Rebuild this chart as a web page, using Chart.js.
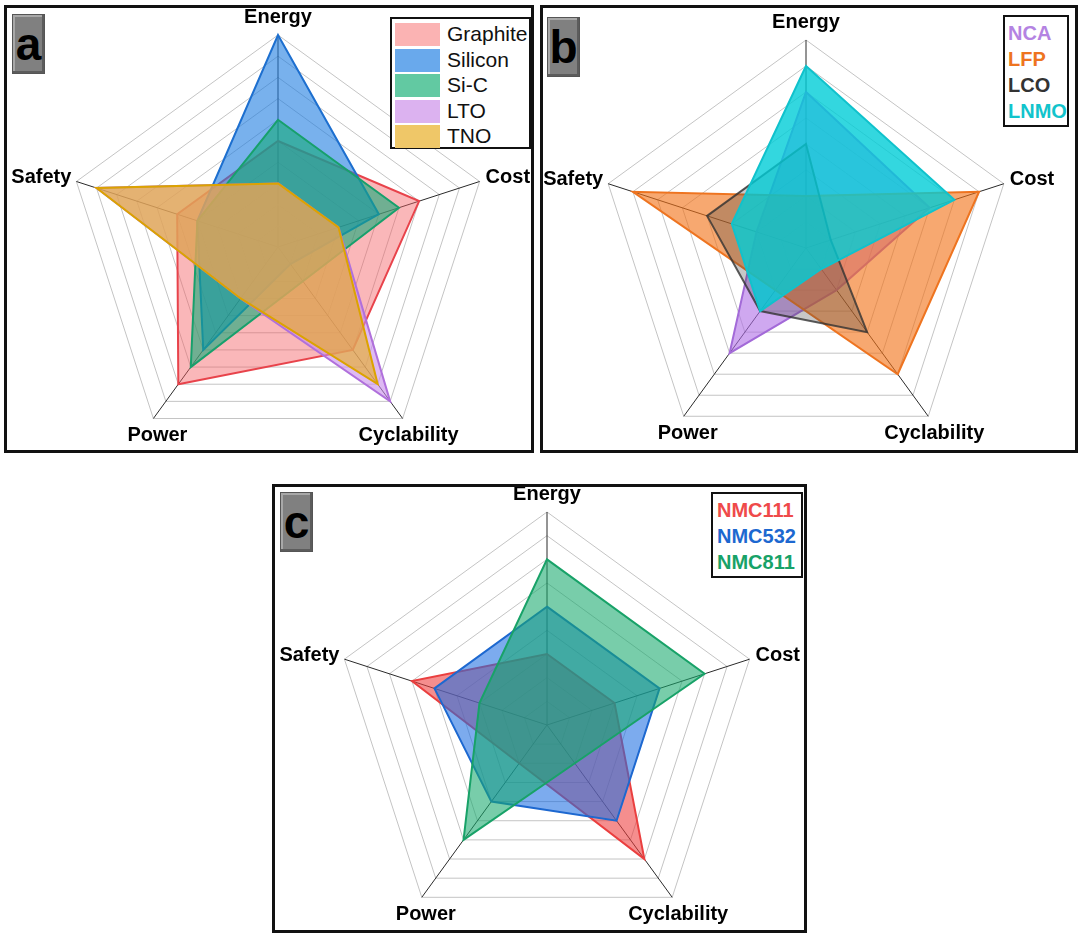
<!DOCTYPE html>
<html>
<head>
<meta charset="utf-8">
<script src="https://cdn.jsdelivr.net/npm/chart.js"></script>
<style>
  body { margin: 0; background: #fff; width: 1080px; height: 939px; position: relative; font-family: "Liberation Sans", Arial, sans-serif; }
  .panel { position: absolute; border: 3px solid #111; box-sizing: border-box; background: #fff; overflow: hidden; }
  .panel canvas { position: absolute; left: 0; top: 0; }
  .tag { position: absolute; width: 33px; height: 60px; background: #808080; border: 1px solid #555; box-sizing: border-box;
         box-shadow: inset -2px -2px 0 #5c5c5c, inset 2px 2px 0 #a8a8a8;
         font: bold 46px "Liberation Sans", Arial, sans-serif; color: #000; text-align: center; line-height: 58px; }
  .legend { position: absolute; border: 2px solid #111; background: #fff; box-sizing: border-box; }
  .legend .row { font: 21px "Liberation Sans", Arial, sans-serif; height: 25.6px; line-height: 25.6px; white-space: nowrap; color: #111; }
  .legend .sw { display: inline-block; width: 45px; height: 23px; vertical-align: -5px; margin-right: 7px; }
  .legend.txt .row { font: bold 20px "Liberation Sans", Arial, sans-serif; height: 26px; line-height: 26px; }
</style>
</head>
<body>

<div class="panel" style="left:4px;top:5px;width:530px;height:448px;">
  <canvas id="chartA"></canvas>
  <div class="tag" style="left:5px;top:6px;">a</div>
  <div class="legend" id="legA" style="left:383px;top:9px;width:141px;height:132px;padding:2px 3px;"></div>
</div>
<div class="panel" style="left:540px;top:5px;width:538px;height:448px;">
  <canvas id="chartB"></canvas>
  <div class="tag" style="left:4px;top:9px;">b</div>
  <div class="legend txt" id="legB" style="left:460px;top:7px;width:66px;height:112px;padding:3px 0 0 3px;"></div>
</div>
<div class="panel" style="left:272px;top:484px;width:535px;height:449px;">
  <canvas id="chartC"></canvas>
  <div class="tag" style="left:5px;top:5px;">c</div>
  <div class="legend txt" id="legC" style="left:436px;top:5px;width:92px;height:86px;padding:3px 0 0 4px;"></div>
</div>

<script>
// axis labels (clockwise from top)
var axes = ['Energy', 'Cost', 'Cyclability', 'Power', 'Safety'];

// panel a - anodes, 10 rings
var anodeNames = ['Graphite', 'Silicon', 'Si-C', 'LTO', 'TNO'];
var graphite = [5, 7, 6, 8, 5];
var silicon  = [10, 5, 1, 6, 4];
var siC      = [6, 6, 2, 7, 4];
var lto      = [3, 3, 9, 3, 9];
var tno      = [3, 3, 8, 3, 9];

// panel b - cathodes, 8 rings
var cathodeNames = ['NCA', 'LFP', 'LCO', 'LNMO'];
var nca  = [6, 5, 2, 5, 2];
var lfp  = [2, 7, 6, 2, 7];
var lco  = [4, 1, 4, 3, 4];
var lnmo = [7, 6, 1, 3, 3];

// panel c - NMC, 9 rings
var nmcNames = ['NMC111', 'NMC532', 'NMC811'];
var nmc111 = [3, 3, 7, 2, 6];
var nmc532 = [5, 5, 5, 4, 5];
var nmc811 = [7, 7, 2, 6, 3];

// axis names drawn next to the outer vertices
var axisLabelPlugin = {
    id: 'axisLabels',
    afterDraw: function (chart) {
        var sc = chart.scales.r;
        var ctx = chart.ctx;
        ctx.save();
        ctx.font = 'bold 20px "Liberation Sans", Arial, sans-serif';
        ctx.fillStyle = '#000';
        ctx.textBaseline = 'middle';
        for (var i = 0; i < axes.length; i++) {
            var p = sc.getPointPosition(i, sc.drawingArea);
            var x = p.x, y = p.y;
            if (i == 0) { ctx.textAlign = 'center'; y -= 18; }
            else if (i == 1) { ctx.textAlign = 'left'; x += 6; y -= 4; }
            else if (i == 4) { ctx.textAlign = 'right'; x -= 5; y -= 4; }
            else { ctx.textAlign = 'center'; x += (i == 2 ? 6 : 4); y += 17; }
            ctx.fillText(axes[i], x, y);
        }
        ctx.restore();
    }
};

function ds(label, data, fill, line, i, n) {
    return {
        label: label,
        data: data,
        backgroundColor: fill,
        borderColor: line,
        borderWidth: 2,
        pointRadius: 0,
        clip: false,
        order: n - i
    };
}

function makeRadar(id, w, h, datasets, max, pad) {
    var cv = document.getElementById(id);
    cv.width = w; cv.height = h;
    cv.style.width = w + 'px'; cv.style.height = h + 'px';
    return new Chart(cv.getContext('2d'), {
        type: 'radar',
        data: { labels: axes, datasets: datasets },
        options: {
            responsive: false,
            animation: false,
            layout: { padding: pad },
            elements: { line: { tension: 0, borderJoinStyle: 'miter' } },
            plugins: { legend: { display: false }, tooltip: { enabled: false } },
            scales: {
                r: {
                    min: 0,
                    max: max,
                    ticks: { display: false, stepSize: 1 },
                    grid: { color: '#c4c4c4', lineWidth: 1 },
                    angleLines: { color: '#2a2a2a', lineWidth: 1 },
                    pointLabels: { display: false }
                }
            }
        },
        plugins: [axisLabelPlugin]
    });
}

var colA = [
    ['rgba(245,95,100,0.45)', '#e8434b'],
    ['rgba(30,125,225,0.60)', '#1d6fcf'],
    ['rgba(20,170,120,0.60)', '#17a06c'],
    ['rgba(200,140,235,0.60)', '#b070dc'],
    ['rgba(232,172,35,0.62)', '#dca300']
];
var colB = [
    ['rgba(175,110,230,0.60)', '#a36ad8'],
    ['rgba(242,115,25,0.62)', '#ee7420'],
    ['rgba(70,70,70,0.30)', 'rgba(50,50,50,0.8)'],
    ['rgba(0,205,215,0.80)', '#10c2cc']
];
var colC = [
    ['rgba(238,60,60,0.58)', '#ea3f3f'],
    ['rgba(30,110,225,0.58)', '#1d68d0'],
    ['rgba(22,168,108,0.58)', '#18a268']
];

var seriesA = [graphite, silicon, siC, lto, tno];
var seriesB = [nca, lfp, lco, lnmo];
var seriesC = [nmc111, nmc532, nmc811];

var dsA = [], dsB = [], dsC = [];
for (var i = 0; i < seriesA.length; i++) dsA.push(ds(anodeNames[i], seriesA[i], colA[i][0], colA[i][1], i, seriesA.length));
for (var i = 0; i < seriesB.length; i++) dsB.push(ds(cathodeNames[i], seriesB[i], colB[i][0], colB[i][1], i, seriesB.length));
for (var i = 0; i < seriesC.length; i++) dsC.push(ds(nmcNames[i], seriesC[i], colC[i][0], colC[i][1], i, seriesC.length));

// square plot boxes placed so the pentagons sit where the reference has them
makeRadar('chartA', 524, 460, dsA, 10, { left: 59, top: 27, right: 41, bottom: 9 });
makeRadar('chartB', 532, 460, dsB, 8, { left: 55, top: 32, right: 61, bottom: 12 });
makeRadar('chartC', 529, 460, dsC, 9, { left: 59, top: 25, right: 44, bottom: 9 });

// legends
var legSwatch = ['#fbb3b3', '#69a9ec', '#62c9a2', '#dcb2f0', '#efc768'];
var legA = document.getElementById('legA');
anodeNames.forEach(function (n, i) {
    legA.innerHTML += '<div class="row"><span class="sw" style="background:' + legSwatch[i] + '"></span>' + n + '</div>';
});
var legBcol = ['#b483e2', '#ee7420', '#333', '#12c4cc'];
var legB = document.getElementById('legB');
cathodeNames.forEach(function (n, i) {
    legB.innerHTML += '<div class="row" style="color:' + legBcol[i] + '">' + n + '</div>';
});
var legCcol = ['#ef4a4a', '#1d68d0', '#18a268'];
var legC = document.getElementById('legC');
nmcNames.forEach(function (n, i) {
    legC.innerHTML += '<div class="row" style="color:' + legCcol[i] + '">' + n + '</div>';
});
</script>
</body>
</html>
